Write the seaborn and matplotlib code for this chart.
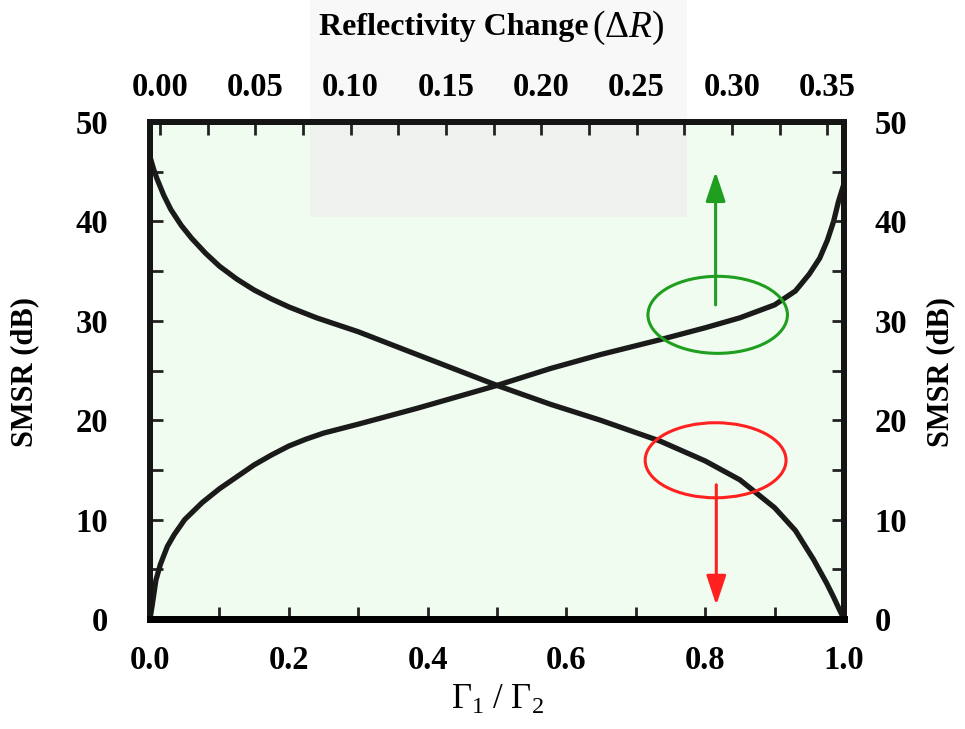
import numpy as np
import pandas as pd
import matplotlib.pyplot as plt
from matplotlib.patches import Ellipse, Rectangle
from matplotlib.ticker import MultipleLocator, FormatStrFormatter
import seaborn as sns

sns.set_style('ticks')
plt.rcParams['font.family'] = ['Liberation Serif', 'DejaVu Serif']
plt.rcParams['mathtext.fontset'] = 'custom'
plt.rcParams['mathtext.rm'] = 'Liberation Serif'
plt.rcParams['mathtext.it'] = 'Liberation Serif:italic'
plt.rcParams['mathtext.bf'] = 'Liberation Serif:bold'
plt.rcParams['text.color'] = 'black'
plt.rcParams['xtick.labelcolor'] = 'black'
plt.rcParams['ytick.labelcolor'] = 'black'

# decreasing curve
gamma_a = [0.0, 0.005, 0.01, 0.02, 0.03, 0.045, 0.06, 0.08, 0.1, 0.125, 0.15, 0.175, 0.2,
           0.24, 0.3, 0.385, 0.5, 0.577, 0.649, 0.735, 0.8, 0.85, 0.9, 0.93, 0.956,
           0.975, 0.985, 0.993, 1.0]
smsr_a = [46.5, 45.3, 44.3, 42.6, 41.2, 39.6, 38.3, 36.8, 35.5, 34.2, 33.1, 32.2, 31.4,
          30.3, 28.9, 26.6, 23.5, 21.6, 20.0, 17.9, 15.9, 14.0, 11.2, 8.9, 6.0,
          3.6, 2.2, 1.0, 0.0]

# increasing curve
gamma_b = [0.0, 0.003, 0.0085, 0.015, 0.025, 0.035, 0.05, 0.075, 0.1, 0.125, 0.15, 0.175,
           0.2, 0.225, 0.25, 0.3, 0.385, 0.5, 0.577, 0.649, 0.735, 0.8, 0.85, 0.9, 0.93,
           0.95, 0.965, 0.976, 0.985, 0.992, 1.0]
smsr_b = [0.0, 1.3, 3.9, 5.5, 7.3, 8.5, 10.0, 11.7, 13.1, 14.3, 15.5, 16.5,
          17.4, 18.1, 18.7, 19.6, 21.2, 23.5, 25.2, 26.6, 28.1, 29.3, 30.3, 31.6, 33.0,
          34.7, 36.3, 38.1, 40.0, 42.0, 43.8]

df = pd.concat([
    pd.DataFrame({'gamma': gamma_a, 'smsr': smsr_a, 'curve': 'a'}),
    pd.DataFrame({'gamma': gamma_b, 'smsr': smsr_b, 'curve': 'b'}),
])

fig = plt.figure(figsize=(9.65, 7.29), dpi=100)
ax = fig.add_axes([150/965, 1-619/729, 694/965, 497/729])
ax.set_facecolor('#effcef')

# faint watermark box
fig.patches.append(Rectangle((310/965, 1-217/729), 377/965, 217/729, transform=fig.transFigure,
                             facecolor='#f8f8f8', edgecolor='none', zorder=-1))
ax.add_patch(Rectangle((310/965, 1-217/729), 377/965, 217/729, transform=fig.transFigure,
                       facecolor='#eff1ef', edgecolor='none', zorder=0.5))

sns.lineplot(data=df, x='gamma', y='smsr', hue='curve', palette=['#1a1a1a', '#1a1a1a'],
             lw=3.8, legend=False, estimator=None, ax=ax)

ax.set_xlim(0, 1)
ax.set_ylim(0, 50)
ax.set_xlabel('')
ax.set_ylabel('')
ax.xaxis.set_major_locator(MultipleLocator(0.2))
ax.xaxis.set_minor_locator(MultipleLocator(0.1))
ax.xaxis.set_major_formatter(FormatStrFormatter('%.1f'))
ax.yaxis.set_major_locator(MultipleLocator(10))
ax.yaxis.set_minor_locator(MultipleLocator(5))
ax.tick_params(which='both', direction='in', length=9, width=2, color='#222222',
               top=False, right=False)
ax.tick_params(axis='x', labelsize=23.5, pad=19)
ax.tick_params(axis='y', labelsize=23.5, pad=30)

# right axis
axr = ax.twinx()
axr.set_ylim(0, 50)
axr.yaxis.set_major_locator(MultipleLocator(10))
axr.yaxis.set_minor_locator(MultipleLocator(5))
axr.tick_params(which='both', direction='in', length=9, width=2, color='#222222', labelsize=23.5, pad=22)

# top axis
axt = ax.twiny()
axt.set_xlim(-0.00526, 0.3588)
axt.xaxis.set_major_locator(MultipleLocator(0.05))
axt.xaxis.set_minor_locator(MultipleLocator(0.025))
axt.xaxis.set_major_formatter(FormatStrFormatter('%.2f'))
axt.tick_params(which='both', direction='in', length=9, width=2, color='#222222', labelsize=23.5, pad=14)

for a in (ax, axr, axt):
    for lab in a.get_xticklabels() + a.get_yticklabels():
        lab.set_fontweight('bold')
    for s in a.spines.values():
        s.set_linewidth(4.3)
        s.set_color('#151515')
    a.spines['bottom'].set_color('black')
    a.spines['bottom'].set_linewidth(5)

# ellipses + arrows
ax.add_patch(Ellipse((0.818, 30.6), 0.201, 7.75, fill=False, edgecolor='#1f9e1f', lw=2.2, zorder=3))
ax.add_patch(Ellipse((0.815, 15.97), 0.203, 7.55, fill=False, edgecolor='#ff2020', lw=2.2, zorder=3))
ax.annotate('', xy=(0.815, 45.0), xytext=(0.815, 31.6),
            arrowprops=dict(arrowstyle='-|>,head_length=0.9,head_width=0.3', color='#1f9e1f',
                            lw=2.2, mutation_scale=20, shrinkA=0, shrinkB=0), zorder=3)
ax.annotate('', xy=(0.816, 1.4), xytext=(0.816, 13.5),
            arrowprops=dict(arrowstyle='-|>,head_length=0.9,head_width=0.3', color='#ff2020',
                            lw=2.2, mutation_scale=20, shrinkA=0, shrinkB=0), zorder=3)

# labels
fig.text(0.026, 0.49, 'SMSR (dB)', rotation=90, ha='center', va='center', fontsize=22, fontweight='bold')
fig.text(0.975, 0.49, 'SMSR (dB)', rotation=90, ha='center', va='center', fontsize=22, fontweight='bold')
fig.text(589/965, 1-28/729, 'Reflectivity Change', ha='right', va='center', fontsize=23, fontweight='bold')
fig.text(592/965, 1-28/729, r'$(\Delta R)$', ha='left', va='center', fontsize=27)
fig.text(498/965, 1-700/729, r'$\Gamma_1\ /\ \Gamma_2$', ha='center', va='center', fontsize=25)

plt.savefig('out.png', dpi=100)
